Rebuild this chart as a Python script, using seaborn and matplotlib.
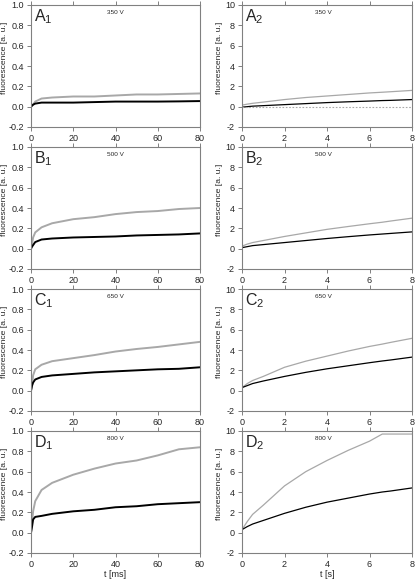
import numpy as np
import pandas as pd
import matplotlib
matplotlib.use("Agg")
import matplotlib.pyplot as plt
import seaborn as sns

sns.set_style("white")
plt.rcParams['font.family'] = ['Liberation Sans', 'DejaVu Sans']

# ---- data ----
voltages = ["350 V", "500 V", "650 V", "800 V"]
letters = ["A", "B", "C", "D"]

t_ms = [0, 0.5, 1, 2, 5, 10, 20, 30, 40, 50, 60, 70, 80]
ms_black = {
    "350 V": [0.0, 0.01, 0.02, 0.03, 0.04, 0.04, 0.04, 0.045, 0.05, 0.05, 0.05, 0.052, 0.055],
    "500 V": [0.0, 0.02, 0.035, 0.065, 0.09, 0.10, 0.11, 0.115, 0.12, 0.13, 0.135, 0.14, 0.15],
    "650 V": [0.0, 0.05, 0.08, 0.11, 0.135, 0.15, 0.165, 0.18, 0.19, 0.20, 0.21, 0.215, 0.23],
    "800 V": [0.0, 0.06, 0.13, 0.155, 0.165, 0.185, 0.21, 0.225, 0.25, 0.26, 0.28, 0.29, 0.30],
}
ms_gray = {
    "350 V": [0.0, 0.01, 0.02, 0.05, 0.08, 0.09, 0.10, 0.10, 0.11, 0.12, 0.12, 0.125, 0.13],
    "500 V": [0.0, 0.05, 0.11, 0.16, 0.21, 0.25, 0.29, 0.31, 0.34, 0.36, 0.37, 0.39, 0.40],
    "650 V": [0.0, 0.05, 0.15, 0.21, 0.255, 0.29, 0.32, 0.35, 0.385, 0.41, 0.43, 0.455, 0.48],
    "800 V": [0.0, 0.10, 0.21, 0.31, 0.42, 0.49, 0.57, 0.63, 0.68, 0.71, 0.76, 0.82, 0.84],
}

t_s = [0, 0.25, 0.5, 1, 2, 3, 4, 5, 6, 6.6, 7, 8]
s_black = {
    "350 V": [-0.05, 0.0, 0.05, 0.1, 0.2, 0.3, 0.4, 0.48, 0.55, 0.6, 0.62, 0.7],
    "500 V": [0.1, 0.2, 0.3, 0.4, 0.6, 0.8, 1.0, 1.18, 1.35, 1.44, 1.5, 1.65],
    "650 V": [0.3, 0.5, 0.7, 0.95, 1.4, 1.8, 2.15, 2.45, 2.75, 2.92, 3.02, 3.3],
    "800 V": [0.3, 0.6, 0.85, 1.2, 1.9, 2.5, 3.0, 3.4, 3.8, 4.0, 4.1, 4.4],
}
s_gray = {
    "350 V": [0.15, 0.25, 0.33, 0.45, 0.7, 0.9, 1.05, 1.2, 1.35, 1.42, 1.47, 1.6],
    "500 V": [0.25, 0.45, 0.6, 0.8, 1.2, 1.55, 1.9, 2.18, 2.45, 2.6, 2.72, 3.0],
    "650 V": [0.3, 0.7, 1.0, 1.4, 2.3, 2.9, 3.4, 3.9, 4.35, 4.58, 4.75, 5.15],
    "800 V": [0.3, 1.1, 1.8, 2.7, 4.6, 6.0, 7.1, 8.1, 9.0, 9.7, 9.7, 9.7],
}
s_control_350 = [0.0] * len(t_s)

ms_ticks = [0, 20, 40, 60, 80]
s_ticks = [0, 2, 4, 6, 8]
ms_yticks = [-0.2, 0.0, 0.2, 0.4, 0.6, 0.8, 1.0]
s_yticks = [-2, 0, 2, 4, 6, 8, 10]

GRAY = "#a8a8a8"
SPINE = "#808080"
FS = 6.5
LFS = 6.1

fig = plt.figure(figsize=(4.15, 5.79), dpi=100)
W, H = 415, 579
row_tops = [5, 147, 289, 431]
ax_h = 122

def style_axes(ax, xticks, yticks, xlim, ylim, xfmt, yfmt, label_x):
    ax.set_xlim(*xlim)
    ax.set_ylim(*ylim)
    ax.set_xticks(xticks)
    ax.set_yticks(yticks)
    ax.set_xticklabels([xfmt(v) for v in xticks])
    ax.set_yticklabels([yfmt(v) for v in yticks])
    for sp in ax.spines.values():
        sp.set_color(SPINE)
        sp.set_linewidth(0.8)
        sp.set_visible(True)
    ax.tick_params(axis='both', which='both', direction='out', length=3,
                   width=0.7, color=SPINE, labelsize=FS, pad=2,
                   top=True, bottom=True, left=True, right=False,
                   labeltop=False)
    ax.set_xlabel("")
    ax.set_ylabel("fluorescence [a. u.]", fontsize=LFS)
    ax.yaxis.set_label_coords(label_x, 0.57)

for i, v in enumerate(voltages):
    top = row_tops[i]
    bottom_frac = (H - top - ax_h) / H
    h_frac = ax_h / H

    # left: ms traces
    axL = fig.add_axes([31 / W, bottom_frac, 169 / W, h_frac])
    dfL = pd.DataFrame({
        "t": t_ms * 2,
        "f": ms_gray[v] + ms_black[v],
        "s": ["gray"] * len(t_ms) + ["black"] * len(t_ms),
    })
    sns.lineplot(data=dfL, x="t", y="f", hue="s",
                 palette={"gray": GRAY, "black": "black"},
                 linewidth=1.4, ax=axL, legend=False)
    style_axes(axL, ms_ticks, ms_yticks, (0, 80), (-0.2, 1.0),
               lambda x: f"{x:g}", lambda y: f"{y:.1f}", -0.135)
    axL.text(0.02, 0.985, letters[i] + r"$_{\mathregular{1}}$", transform=axL.transAxes,
             fontsize=11.5, va="top", ha="left")
    axL.text(0.5, 0.955, v, transform=axL.transAxes, fontsize=4.6,
             va="top", ha="center")

    # right: s traces
    axR = fig.add_axes([242 / W, bottom_frac, 170 / W, h_frac])
    dfR = pd.DataFrame({
        "t": t_s * 2,
        "f": s_gray[v] + s_black[v],
        "s": ["gray"] * len(t_s) + ["black"] * len(t_s),
    })
    sns.lineplot(data=dfR, x="t", y="f", hue="s",
                 palette={"gray": GRAY, "black": "black"},
                 linewidth=0.9, ax=axR, legend=False)
    if v == "350 V":
        sns.lineplot(x=t_s, y=s_control_350, color=GRAY, linewidth=0.8,
                     linestyle=(0, (1.5, 1.5)), ax=axR)
    style_axes(axR, s_ticks, s_yticks, (0, 8), (-2, 10),
               lambda x: f"{x:g}", lambda y: f"{y:g}", -0.112)
    axR.text(0.02, 0.985, letters[i] + r"$_{\mathregular{2}}$", transform=axR.transAxes,
             fontsize=11.5, va="top", ha="left")
    axR.text(0.48, 0.955, v, transform=axR.transAxes, fontsize=4.6,
             va="top", ha="center")

    if i == 3:
        axL.set_xlabel("t [ms]", fontsize=FS, labelpad=1)
        axR.set_xlabel("t [s]", fontsize=FS, labelpad=1)

fig.savefig("out.png", dpi=100)
